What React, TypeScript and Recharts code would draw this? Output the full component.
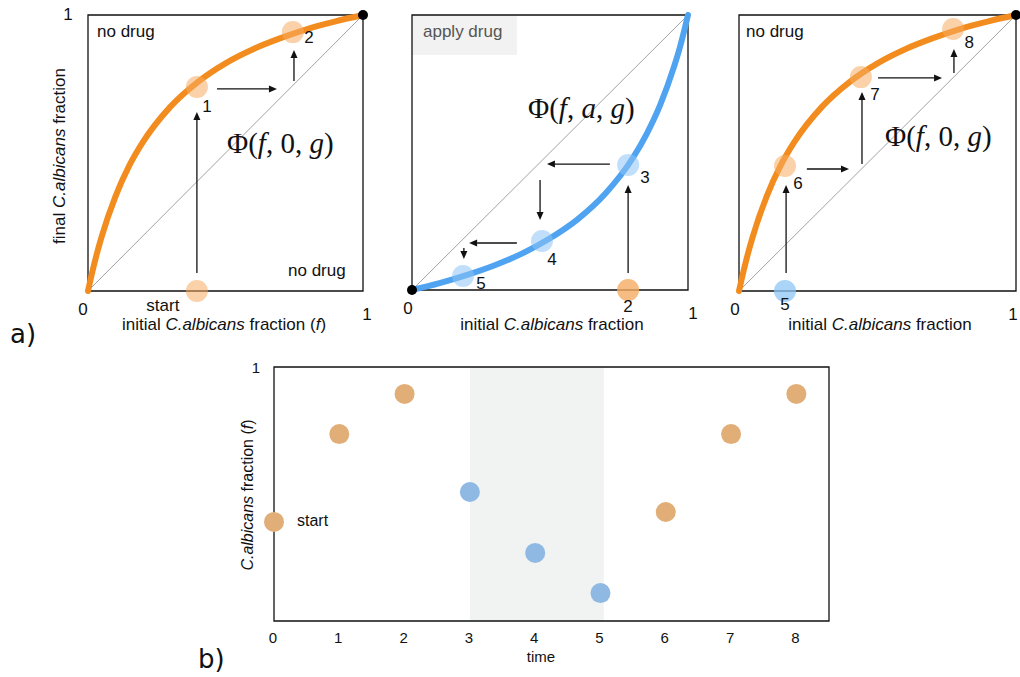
import React from 'react';
import {
  ComposedChart,
  Line,
  Scatter,
  XAxis,
  YAxis,
  ReferenceArea,
  ReferenceLine,
} from 'recharts';

// Φ(f,0,g) – no drug map
const noDrugF = [0, 0.01, 0.03, 0.05, 0.1, 0.15, 0.2, 0.3, 0.4, 0.5, 0.6, 0.7, 0.8, 0.9, 1];
const noDrugPhi = [0, 0.045, 0.127, 0.198, 0.343, 0.454, 0.54, 0.668, 0.758, 0.825, 0.876, 0.916, 0.95, 0.977, 1];

// Φ(f,a,g) – drug map
const drugF = [0, 0.1, 0.2, 0.3, 0.4, 0.5, 0.6, 0.7, 0.8, 0.85, 0.9, 0.95, 0.97, 0.99, 1];
const drugPhi = [0, 0.025, 0.055, 0.09, 0.133, 0.188, 0.257, 0.35, 0.48, 0.567, 0.675, 0.814, 0.88, 0.958, 1];

const diagonal = [0, 1];
const drugSteps = [3, 4, 5];

// a) left: start -> 1 -> 2
const leftSteps = [0, 1, 2];
const leftF = [0.396, 0.396, 0.745];
const leftPhi = [0, 0.739, 0.938];
const leftArrows = [
  [0.396, 0.065, 0.396, 0.649],
  [0.469, 0.732, 0.687, 0.732],
  [0.749, 0.761, 0.749, 0.873],
];

// a) middle: 2 -> 3 -> 4 -> 5 (drug applied)
const midSteps = [2, 3, 4, 5];
const midF = [0.783, 0.783, 0.471, 0.185];
const midPhi = [0, 0.455, 0.178, 0.051];
const midArrows = [
  [0.783, 0.062, 0.783, 0.382],
  [0.717, 0.458, 0.489, 0.458],
  [0.464, 0.4, 0.464, 0.255],
  [0.38, 0.171, 0.207, 0.171],
  [0.188, 0.153, 0.188, 0.113],
];

// a) right: 5 -> 6 -> 7 -> 8
const rightSteps = [5, 6, 7, 8];
const rightF = [0.166, 0.166, 0.44, 0.773];
const rightPhi = [0, 0.453, 0.775, 0.949];
const rightArrows = [
  [0.17, 0.065, 0.17, 0.384],
  [0.245, 0.442, 0.397, 0.442],
  [0.444, 0.46, 0.444, 0.721],
  [0.502, 0.772, 0.733, 0.772],
  [0.776, 0.79, 0.776, 0.877],
];

// b) fraction over time
const timeSteps = [0, 1, 2, 3, 4, 5, 6, 7, 8];
const fractionOverTime = [0.39, 0.736, 0.894, 0.508, 0.268, 0.11, 0.429, 0.736, 0.894];
const drugWindow = [3, 5.05];

const SANS = '"Liberation Sans", Arial, Helvetica, sans-serif';
const SERIF = '"Liberation Serif", "Times New Roman", serif';
const ORANGE = '#f28c1e';
const BLUE = '#4fa3f0';

const toPoints = (xs: number[], ys: number[]) => xs.map((x, i) => ({ x, y: ys[i] }));

function Arrow(props: any) {
  const { x1, y1, x2, y2 } = props;
  const dx = x2 - x1;
  const dy = y2 - y1;
  const len = Math.hypot(dx, dy) || 1;
  const ux = dx / len;
  const uy = dy / len;
  const hl = 8;
  const hw = 3.5;
  const bx = x2 - ux * hl;
  const by = y2 - uy * hl;
  return (
    <g>
      <line x1={x1} y1={y1} x2={bx} y2={by} stroke="#111" strokeWidth={1.3} />
      <polygon
        points={`${x2},${y2} ${bx - uy * hw},${by + ux * hw} ${bx + uy * hw},${by - ux * hw}`}
        fill="#111"
      />
    </g>
  );
}

function endDot(props: any) {
  return <circle cx={props.cx} cy={props.cy} r={5} fill="#000" />;
}

function makeStepDot(labelOffsets: Record<number, number[]>, axisOpacity: number) {
  return (props: any) => {
    const { cx, cy, payload } = props;
    const drug = drugSteps.includes(payload.step);
    const onAxis = payload.y === 0;
    const off = labelOffsets[payload.step] || [0, 0];
    return (
      <g>
        <circle
          cx={cx}
          cy={cy}
          r={11}
          fill={drug ? '#8ec5f5' : '#f5ab62'}
          fillOpacity={onAxis ? axisOpacity : 0.55}
        />
        <text
          x={cx + off[0]}
          y={cy + off[1]}
          textAnchor="middle"
          fontFamily={SANS}
          fontSize={17}
          fill="#111"
        >
          {payload.step === 0 ? 'start' : String(payload.step)}
        </text>
      </g>
    );
  };
}

function makeXTick(dx0: number, dx1: number) {
  return (props: any) => {
    const { x, y, payload } = props;
    const isZero = payload.value === 0;
    return (
      <text
        x={x + (isZero ? dx0 : dx1)}
        y={y + (isZero ? 24 : 29)}
        textAnchor="middle"
        fontFamily={SANS}
        fontSize={17}
        fill="#111"
      >
        {payload.value}
      </text>
    );
  };
}

interface MapPanelProps {
  left: number;
  width: number;
  margin: { top: number; right: number; bottom: number; left: number };
  xAxisHeight: number;
  showY?: boolean;
  drug?: boolean;
  steps: number[];
  f: number[];
  phi: number[];
  arrows: number[][];
  labelOffsets: Record<number, number[]>;
  axisOpacity: number;
  tickDx: number[];
}

function MapPanel(p: MapPanelProps) {
  const curve = p.drug ? toPoints(drugF, drugPhi) : toPoints(noDrugF, noDrugPhi);
  const dots = p.steps.map((step, i) => ({ step, x: p.f[i], y: p.phi[i] }));
  const end = p.drug ? [{ x: 0, y: 0 }] : [{ x: 1, y: 1 }];
  return (
    <div style={{ position: 'absolute', left: p.left, top: 0 }}>
      <ComposedChart width={p.width} height={340} margin={p.margin}>
        <XAxis
          type="number"
          dataKey="x"
          domain={[0, 1]}
          ticks={[0, 1]}
          axisLine={false}
          tickLine={false}
          tickSize={0}
          tickMargin={0}
          height={p.xAxisHeight}
          tick={makeXTick(p.tickDx[0], p.tickDx[1])}
          interval={0}
        />
        {p.showY ? (
          <YAxis
            type="number"
            dataKey="y"
            domain={[0, 1]}
            ticks={[1]}
            axisLine={false}
            tickLine={false}
            tickSize={0}
            tickMargin={0}
            width={88}
            interval={0}
            tick={(t: any) => (
              <text x={t.x - 20} y={t.y + 5} textAnchor="middle" fontFamily={SANS} fontSize={17} fill="#111">
                {t.payload.value}
              </text>
            )}
          />
        ) : (
          <YAxis hide type="number" dataKey="y" domain={[0, 1]} />
        )}
        {p.drug && (
          <ReferenceArea x1={0} x2={0.38} y1={0.855} y2={1} fill="#f1f2f1" fillOpacity={1} stroke="none" />
        )}
        <ReferenceArea x1={0} x2={1} y1={0} y2={1} fill="none" stroke="#111" strokeWidth={1.3} />
        <Line
          data={toPoints(diagonal, diagonal)}
          dataKey="y"
          type="linear"
          stroke="#8a8a8a"
          strokeWidth={0.8}
          dot={false}
          activeDot={false}
          isAnimationActive={false}
        />
        <Line
          data={curve}
          dataKey="y"
          type="monotone"
          stroke={p.drug ? BLUE : ORANGE}
          strokeWidth={6}
          strokeLinecap="round"
          dot={false}
          activeDot={false}
          isAnimationActive={false}
        />
        {p.arrows.map((a, i) => (
          <ReferenceLine
            key={i}
            segment={[
              { x: a[0], y: a[1] },
              { x: a[2], y: a[3] },
            ]}
            shape={Arrow}
          />
        ))}
        <Scatter data={dots} shape={makeStepDot(p.labelOffsets, p.axisOpacity)} isAnimationActive={false} />
        <Scatter data={end} shape={endDot} isAnimationActive={false} />
      </ComposedChart>
    </div>
  );
}

function timeDot(props: any) {
  const { cx, cy, payload } = props;
  const drug = drugSteps.includes(payload.x);
  return (
    <g>
      <circle cx={cx} cy={cy} r={10} fill={drug ? '#8fb9e3' : '#e1ae78'} />
      {payload.x === 0 && (
        <text x={cx + 23} y={cy + 4} fontFamily={SANS} fontSize={16} fill="#111">
          start
        </text>
      )}
    </g>
  );
}

function TimePanel() {
  const pts = timeSteps.map((t, i) => ({ x: t, y: fractionOverTime[i] }));
  return (
    <div style={{ position: 'absolute', left: 200, top: 350 }}>
      <ComposedChart width={640} height={327} margin={{ top: 17, right: 11, bottom: 0, left: 0 }}>
        <XAxis
          type="number"
          dataKey="x"
          domain={[0, 8.5]}
          ticks={timeSteps}
          interval={0}
          axisLine={false}
          tickLine={false}
          tickSize={0}
          tickMargin={0}
          height={56}
          tick={(t: any) => (
            <text x={t.x - 1} y={t.y + 22} textAnchor="middle" fontFamily={SANS} fontSize={15} fill="#111">
              {t.payload.value}
            </text>
          )}
        />
        <YAxis
          type="number"
          dataKey="y"
          domain={[0, 1]}
          ticks={[1]}
          interval={0}
          axisLine={false}
          tickLine={false}
          tickSize={0}
          tickMargin={0}
          width={74}
          tick={(t: any) => (
            <text x={t.x - 18} y={t.y + 6} textAnchor="middle" fontFamily={SANS} fontSize={15} fill="#111">
              {t.payload.value}
            </text>
          )}
        />
        <ReferenceArea x1={drugWindow[0]} x2={drugWindow[1]} y1={0} y2={1} fill="#f1f3f2" fillOpacity={1} stroke="none" />
        <ReferenceArea x1={0} x2={8.5} y1={0} y2={1} fill="none" stroke="#111" strokeWidth={1.3} />
        <Scatter data={pts} shape={timeDot} isAnimationActive={false} />
      </ComposedChart>
    </div>
  );
}

function Annotations() {
  const t = { fontFamily: SANS, fontSize: 17, fill: '#111' };
  const phi = { fontFamily: SERIF, fontSize: 29, fill: '#111' };
  return (
    <svg width={1020} height={677} style={{ position: 'absolute', left: 0, top: 0, pointerEvents: 'none' }}>
      <text x={10} y={343} fontFamily='"DejaVu Sans", sans-serif' fontSize={26} fill="#111">a)</text>
      <text x={198} y={668} fontFamily='"DejaVu Sans", sans-serif' fontSize={26} fill="#111">b)</text>

      <text {...t} transform="rotate(-90 65 156)" x={65} y={156} textAnchor="middle">
        final <tspan fontStyle="italic">C.albicans</tspan> fraction
      </text>
      <text {...t} x={224} y={330} textAnchor="middle">
        initial <tspan fontStyle="italic">C.albicans</tspan> fraction (<tspan fontStyle="italic">f</tspan>)
      </text>
      <text {...t} x={552} y={330} textAnchor="middle">
        initial <tspan fontStyle="italic">C.albicans</tspan> fraction
      </text>
      <text {...t} x={880} y={330} textAnchor="middle">
        initial <tspan fontStyle="italic">C.albicans</tspan> fraction
      </text>

      <text {...t} x={97} y={37}>no drug</text>
      <text {...t} x={288} y={276}>no drug</text>
      <text {...t} x={423} y={37} fill="#555">apply drug</text>
      <text {...t} x={746} y={37}>no drug</text>

      <text {...phi} x={227} y={153}>
        Φ(<tspan fontStyle="italic">f</tspan>, 0, <tspan fontStyle="italic">g</tspan>)
      </text>
      <text {...phi} x={528} y={118}>
        Φ(<tspan fontStyle="italic">f</tspan>, <tspan fontStyle="italic">a</tspan>, <tspan fontStyle="italic">g</tspan>)
      </text>
      <text {...phi} x={885} y={146}>
        Φ(<tspan fontStyle="italic">f</tspan>, 0, <tspan fontStyle="italic">g</tspan>)
      </text>

      <text {...t} fontSize={16} transform="rotate(-90 253 495)" x={253} y={495} textAnchor="middle">
        <tspan fontStyle="italic">C.albicans</tspan> fraction (<tspan fontStyle="italic">f</tspan>)
      </text>
      <text {...t} fontSize={15} x={541} y={662} textAnchor="middle">time</text>
    </svg>
  );
}

export default function App() {
  return (
    <div
      style={{
        position: 'absolute',
        left: 0,
        top: 0,
        width: 1020,
        height: 677,
        background: '#fff',
        overflow: 'hidden',
        fontFamily: SANS,
      }}
    >
      <MapPanel
        left={0}
        width={380}
        margin={{ top: 15, right: 17, bottom: 0, left: 0 }}
        xAxisHeight={49}
        showY
        steps={leftSteps}
        f={leftF}
        phi={leftPhi}
        arrows={leftArrows}
        labelOffsets={{ 0: [-34, 20], 1: [10, 25], 2: [16, 11] }}
        axisOpacity={0.55}
        tickDx={[-5, 4]}
      />
      <MapPanel
        left={390}
        width={320}
        margin={{ top: 15, right: 22, bottom: 0, left: 22 }}
        xAxisHeight={50}
        drug
        steps={midSteps}
        f={midF}
        phi={midPhi}
        arrows={midArrows}
        labelOffsets={{ 2: [0, 22], 3: [17, 18], 4: [10, 24], 5: [18, 13] }}
        axisOpacity={0.8}
        tickDx={[-4, 5]}
      />
      <MapPanel
        left={700}
        width={320}
        margin={{ top: 15, right: 4, bottom: 0, left: 39 }}
        xAxisHeight={49}
        steps={rightSteps}
        f={rightF}
        phi={rightPhi}
        arrows={rightArrows}
        labelOffsets={{ 5: [0, 19], 6: [13, 23], 7: [14, 23], 8: [16, 19] }}
        axisOpacity={0.75}
        tickDx={[-4, -3]}
      />
      <TimePanel />
      <Annotations />
    </div>
  );
}
